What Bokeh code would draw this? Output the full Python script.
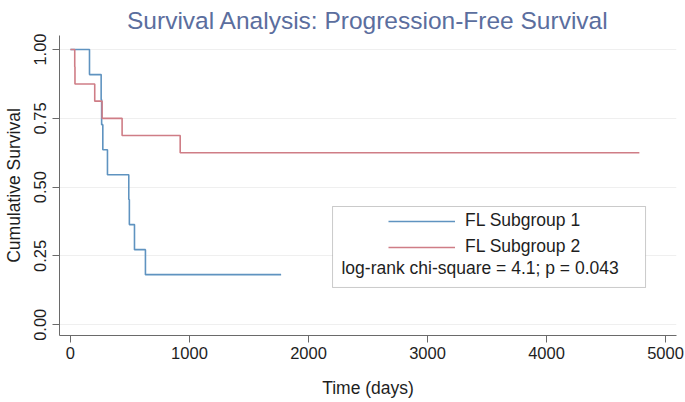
from bokeh.plotting import figure
from bokeh.models import Range1d, Legend, LegendItem, Label, BoxAnnotation, FixedTicker, Title
from bokeh.embed import file_html
from bokeh.resources import INLINE

# ---- data ----
time_g1 = [0, 160, 258, 262, 272, 311, 490, 495, 538, 630, 1770]
surv_g1 = [1.0, 0.909, 0.818, 0.727, 0.636, 0.545, 0.455, 0.364, 0.273, 0.182, 0.182]
time_g2 = [0, 36, 38, 204, 266, 434, 922, 4780]
surv_g2 = [1.0, 0.9375, 0.875, 0.8125, 0.75, 0.6875, 0.625, 0.625]
series_names = ["FL Subgroup 1", "FL Subgroup 2"]
x_ticks = [0, 1000, 2000, 3000, 4000, 5000]
y_ticks = [0.0, 0.25, 0.5, 0.75, 1.0]
y_tick_labels = ["0.00", "0.25", "0.50", "0.75", "1.00"]
title_text = "Survival Analysis: Progression-Free Survival"
x_label = "Time (days)"
y_label = "Cumulative Survival"
stat_text = "log-rank chi-square = 4.1; p = 0.043"

FONT = "Liberation Sans"
BLUE = "#5f93c0"
RED = "#cf7d86"
AXIS = "#6a6a6a"
TXT = "#1e1e1e"

p = figure(width=685, height=402, output_backend="svg", toolbar_location=None,
           x_range=Range1d(-92, 5092), y_range=Range1d(-0.039, 1.051),
           min_border_left=59, min_border_right=9, min_border_top=35, min_border_bottom=67)
p.outline_line_color = None
p.background_fill_color = "white"
p.border_fill_color = "white"

p.add_layout(Title(text=title_text, text_font=FONT, text_font_size="24.5px",
                   text_font_style="normal", text_color="#5b6e9e",
                   align="center", standoff=4), "above")

p.xgrid.visible = False
p.ygrid.ticker = FixedTicker(ticks=y_ticks)
p.ygrid.grid_line_color = "#efefef"
p.ygrid.grid_line_width = 1

# axes
p.xaxis.ticker = FixedTicker(ticks=x_ticks)
p.yaxis.ticker = FixedTicker(ticks=y_ticks)
p.yaxis.major_label_overrides = {t: l for t, l in zip(y_ticks, y_tick_labels)}
p.yaxis.major_label_orientation = "vertical"
for ax in (p.xaxis[0], p.yaxis[0]):
    ax.axis_line_color = AXIS
    ax.major_tick_line_color = AXIS
    ax.minor_tick_line_color = None
    ax.major_tick_in = 0
    ax.major_tick_out = 7
    ax.major_label_text_font = FONT
    ax.major_label_text_font_size = "16.5px"
    ax.major_label_text_color = TXT
    ax.major_label_standoff = 4
    ax.axis_label_text_font = FONT
    ax.axis_label_text_font_size = "17.5px"
    ax.axis_label_text_font_style = "normal"
    ax.axis_label_text_color = TXT
p.yaxis.major_label_standoff = 6
p.xaxis.axis_label = x_label
p.xaxis.axis_label_standoff = 16
p.yaxis.axis_label = y_label
p.yaxis.axis_label_standoff = 8

# curves
r1 = p.step(time_g1, surv_g1, mode="after", line_color=BLUE, line_width=1.6)
r2 = p.step(time_g2, surv_g2, mode="after", line_color=RED, line_width=1.6)

# legend box
box = BoxAnnotation(left=2202, right=4832, top=0.4297, bottom=0.1355,
                    fill_color="white", fill_alpha=1.0,
                    line_color="#505050", line_width=1, level="annotation")
p.add_layout(box)

legend = Legend(items=[LegendItem(label=series_names[0], renderers=[r1]),
                       LegendItem(label=series_names[1], renderers=[r2])],
                location=(329, 78), padding=0, margin=0, spacing=5,
                glyph_width=67, glyph_height=20, label_height=20, label_standoff=10,
                label_text_font=FONT, label_text_font_size="17.5px", label_text_color=TXT,
                background_fill_alpha=0, border_line_alpha=0)
p.add_layout(legend)

p.add_layout(Label(x=2277, y=0.208, text=stat_text, text_font=FONT,
                   text_font_size="17.5px", text_color=TXT,
                   text_align="left", text_baseline="middle"))

open("out.html", "w").write(file_html(p, INLINE))
